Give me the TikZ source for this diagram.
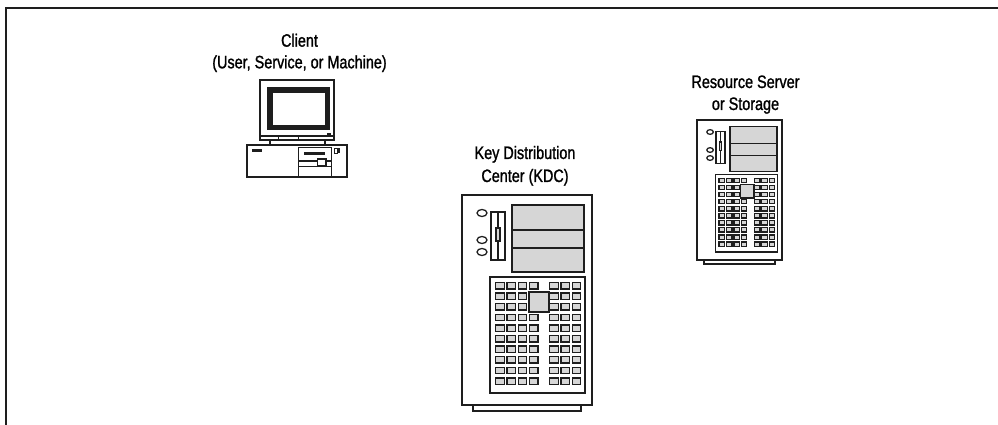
\documentclass[tikz,border=0pt]{standalone}
\usepackage{fontspec}
\setmainfont{Liberation Sans}[FakeStretch=0.8, FakeBold=1.2]
\definecolor{ink}{HTML}{1E1E1E}
\definecolor{panelgray}{HTML}{D6D6D6}
\tikzset{
  outline/.style={draw=ink, line width=1.15pt},
  fineline/.style={draw=ink, line width=0.9pt},
  cellbox/.style={draw=ink, line width=0.9pt, fill=panelgray},
  caption/.style={font=\fontsize{12.8}{15}\selectfont, inner sep=0pt, anchor=base},
  % tower server, drawn in a 130 x 216 box with its origin at the top left
  server/.pic={
    \draw[outline, fill=white] (0,0) rectangle (130,210);
    \draw[outline] (11,210) rectangle (119,216);
    % power / status buttons
    \foreach \cy in {18,45,57}
      \draw[fineline] (20,\cy) ellipse [x radius=5, y radius=3.5];
    % floppy bay
    \draw[fineline] (29,17) rectangle (43,65);
    \draw[fineline] (36,17) -- (36,65);
    \draw[fineline, fill=panelgray] (34,33) rectangle (38,46);
    % drive bays
    \draw[outline, fill=panelgray] (50,10) rectangle (122,77);
    \draw[outline] (50,35) -- (122,35);
    \draw[outline] (50,53) -- (122,53);
    % vent grille
    \draw[outline] (28,82) rectangle (123,198);
    \foreach \cx in {38,49.3,60.6,92,103.3,114.6}
      \foreach \r in {0,...,9}
        \draw[cellbox] (\cx-4.2,{90.7+10.6*\r-3.2}) rectangle ++(8.4,6.4);
    \foreach \r in {0,3,4,5,6,7,8,9}
      \draw[cellbox] (71.9-4.2,{90.7+10.6*\r-3.2}) rectangle ++(8.4,6.4);
    \draw[cellbox] (67,97) rectangle (87,117);
  }
}
\begin{document}
\begin{tikzpicture}[x=0.25mm, y=-0.25mm]
  \useasboundingbox (0,0) rectangle (998,425);
  % page frame (top and left edges)
  \draw[draw=ink, line width=1.4pt] (6,425) -- (6,8) -- (998,8);

  % ---- client workstation ----
  \node[caption] (clientA) at (299.5,46.7) {Client};
  \node[caption] (clientB) at (299.5,68.3) {(User, Service, or Machine)};
  % monitor
  \draw[outline] (260,80) rectangle (334,140);
  \draw[fineline] (260,136) -- (334,136);
  \draw[fineline] (278.3,136) -- (278.3,140);
  \draw[fineline] (298.3,136) -- (298.3,140);
  \fill[ink] (266.7,86.7) rectangle (330,130);
  \fill[white] (273.3,93.3) rectangle (325,125);
  \draw[ink, line width=1.5pt] (327,134.3) -- (331,134.3);
  % stand
  \draw[fineline] (270,140) -- (270,145);
  \draw[fineline] (325,140) -- (325,145);
  % desktop case
  \draw[outline] (246.7,145) rectangle (346.7,176.7);
  \fill[ink] (251.7,149) rectangle (261.7,152.3);
  \draw[fineline] (298.3,176.7) -- (298.3,147.7) -- (331.7,147.7) -- (331.7,176.7);
  \draw[ink, line width=2pt] (304,153.3) -- (325,153.3);
  \draw[fineline] (298.3,161) -- (331.7,161);
  \draw[fineline] (298.3,166.7) -- (331.7,166.7);
  \draw[fineline, fill=white] (317.7,159) rectangle (326,165.7);
  \draw[fineline] (334.3,148.3) rectangle (337.3,153.3);
  \fill[ink] (337.3,148.3) rectangle (340.3,153.3);

  % ---- key distribution center ----
  \node[caption] (kdcA) at (525,159) {Key Distribution};
  \node[caption] (kdcB) at (525,182) {Center (KDC)};
  \pic (kdc) at (462,195) {server};

  % ---- resource server ----
  \node[caption] (resA) at (745.5,88) {Resource Server};
  \node[caption] (resB) at (745.5,110) {or Storage};
  \pic[xscale=0.654, yscale=0.667] (res) at (697,120) {server};
\end{tikzpicture}
\end{document}
